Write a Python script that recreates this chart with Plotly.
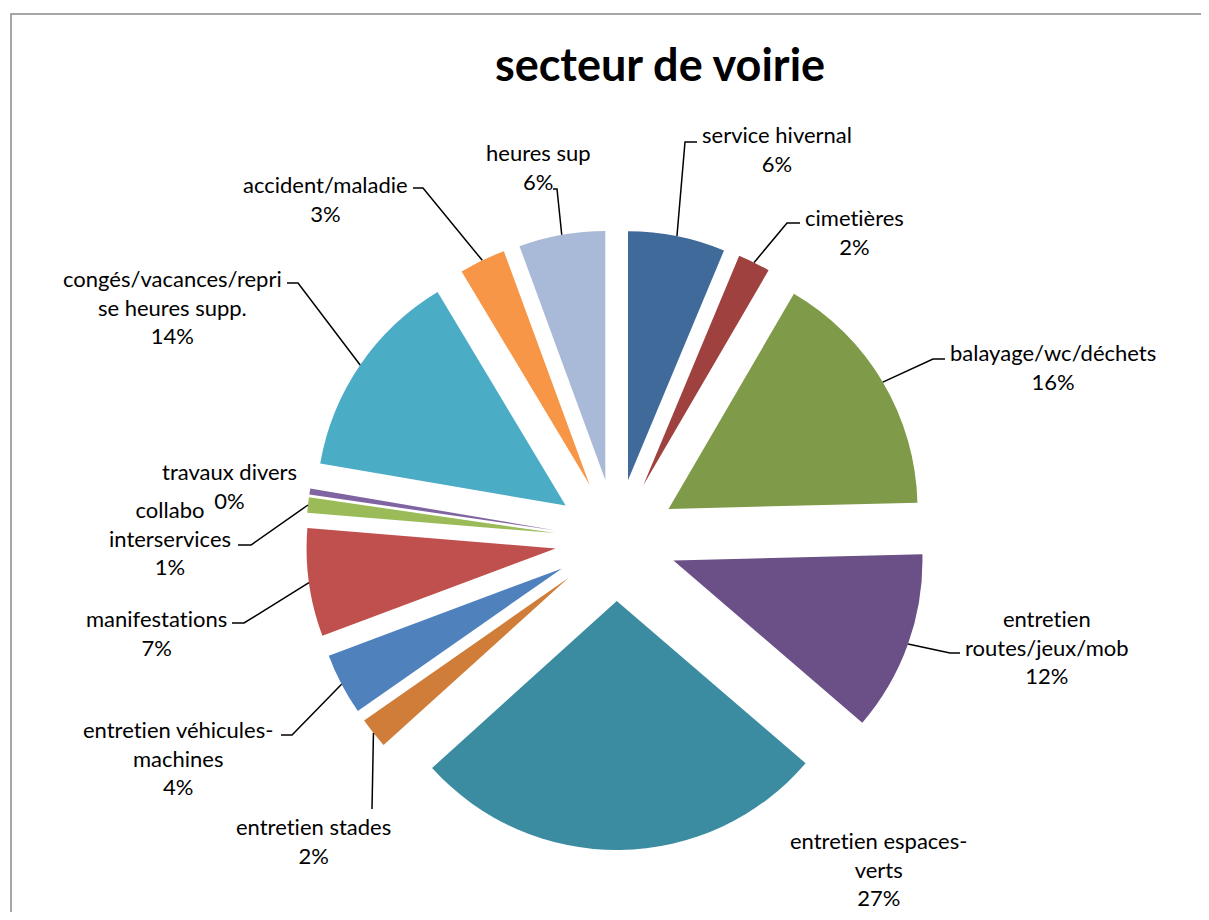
import math
import plotly.graph_objects as go

# ---------------- data ----------------
categories = [
    "service hivernal", "cimetières", "balayage/wc/déchets",
    "entretien routes/jeux/mob", "entretien espaces-verts", "entretien stades",
    "entretien véhicules-machines", "manifestations", "collabo interservices",
    "travaux divers", "congés/vacances/reprise heures supp.",
    "accident/maladie", "heures sup",
]
label_lines = [
    "service hivernal", "cimetières", "balayage/wc/déchets",
    "entretien<br>routes/jeux/mob", "entretien espaces-<br>verts", "entretien stades",
    "entretien véhicules-<br>machines", "manifestations", "collabo<br>interservices",
    "travaux divers", "congés/vacances/repri<br>se heures supp.",
    "accident/maladie", "heures sup",
]
values = [6.3, 2.1, 16.2, 11.7, 27.0, 2.0, 4.0, 7.0, 1.0, 0.4, 13.7, 3.0, 5.6]

# ---------------- styles / layout ----------------
colors = [
    "#3F6A99", "#9E413F", "#7F9A48", "#6A5086", "#3B8CA1", "#D07D39",
    "#4F81BD", "#C0504D", "#9BBB59", "#8064A2", "#4BACC6", "#F79646", "#A9B9D8",
]
FONT = "Lato, Carlito, Calibri, Open Sans, sans-serif"
W, H = 1201, 904             # figure size; the page body adds an 8 px margin
OFF = 8                      # page offset of the plot inside the browser window
cx, cy = 616, 540            # pie centre (window pixels)
rad, pull = 249, 0.245
ext = rad * (1 + pull)

# label placement (window pixels): text-block centre, and leader elbow/end
label_center = [
    (777, 149), (854, 232), (1053, 367), (1047, 647), (878, 869), (313, 841),
    (178, 758), (156, 633), (170, 538), (229, 486), (172, 307), (325, 199), (538, 167),
]
leader_pts = [
    [(685, 142), (697, 142)], [(787, 223), (800, 223)], [(933, 359), (945, 359)],
    [(950, 653), (960, 653)], None, [(372, 809)],
    [(292, 735), (281, 735)], [(244, 623), (232, 623)], [(251, 545), (238, 545)],
    None, [(298, 283), (287, 283)], [(423, 188), (413, 188)], [(557, 189), (553, 189)],
]


def px(sx):
    return (sx - OFF) / W


def py(sy):
    return 1 - (sy - OFF) / H


total = sum(values)
pct = [v / total for v in values]

fig = go.Figure(go.Pie(
    labels=categories,
    values=values,
    sort=False,
    direction="clockwise",
    rotation=0,
    pull=[pull] * len(values),
    marker=dict(colors=colors, line=dict(width=0)),
    textinfo="none",
    hoverinfo="label+percent",
    showlegend=False,
    domain=dict(x=[px(cx - ext), px(cx + ext)], y=[py(cy + ext), py(cy - ext)]),
))

annotations = []
shapes = [dict(type="rect", xref="paper", yref="paper",
               x0=px(11), x1=1.02, y0=-0.02, y1=py(14),
               line=dict(color="#888888", width=1.5), layer="below")]

cum = 0.0
for i, v in enumerate(values):
    mid = (cum + v / 2) / total * 2 * math.pi
    cum += v
    # outer-arc midpoint of the exploded slice
    ax = cx + ext * math.sin(mid)
    ay = cy - ext * math.cos(mid)
    lx, ly = label_center[i]
    txt = f"{label_lines[i]}<br>{pct[i]*100:.0f}%"
    annotations.append(dict(
        x=px(lx), y=py(ly), xref="paper", yref="paper",
        text=f'<span style="font-variant-ligatures:none">{txt}</span>',
        showarrow=False, xanchor="center", yanchor="middle", align="center",
        font=dict(family=FONT, size=22, color="#000000"),
    ))
    if leader_pts[i]:
        pts = [(ax, ay)] + leader_pts[i]
        path = "M " + " L ".join(f"{px(x):.5f},{py(y):.5f}" for x, y in pts)
        shapes.append(dict(type="path", xref="paper", yref="paper", path=path,
                           line=dict(color="#000000", width=1.5)))

fig.update_layout(
    width=W, height=H,
    margin=dict(l=0, r=0, t=0, b=0),
    paper_bgcolor="white",
    title=dict(text="<b>secteur de voirie</b>", x=px(660), y=py(65),
               xanchor="center", yanchor="middle",
               font=dict(family=FONT, size=45, color="#000000")),
    annotations=annotations,
    shapes=shapes,
)

fig.write_html("out.html")
